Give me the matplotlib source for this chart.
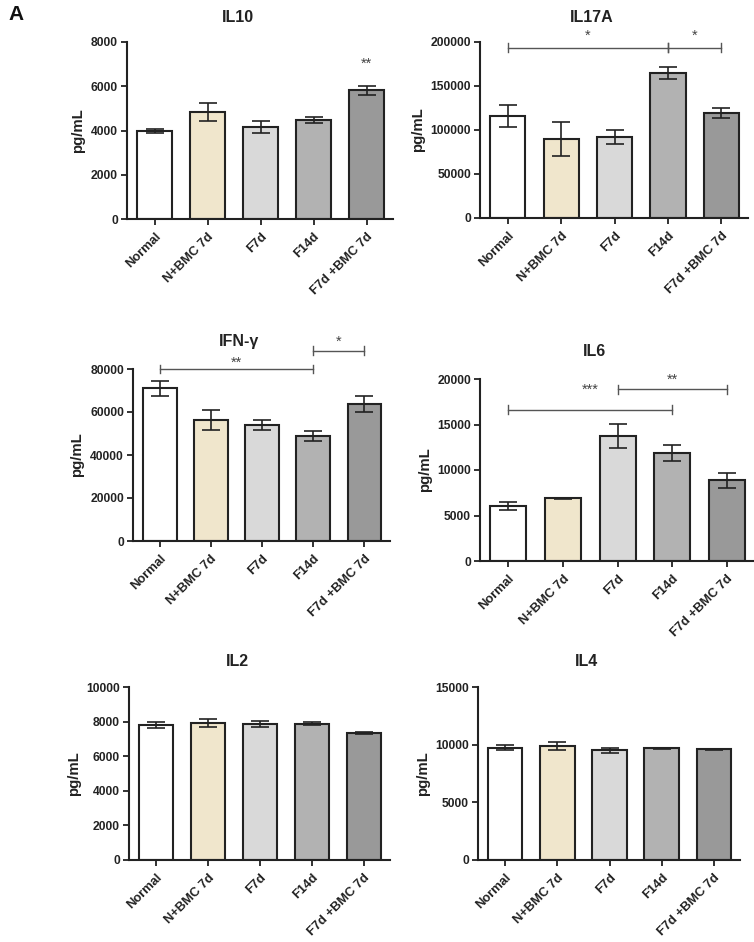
import matplotlib
matplotlib.use("Agg")
import matplotlib.pyplot as plt
import numpy as np

plt.rcParams['font.family'] = ['Liberation Sans', 'DejaVu Sans']

groups = ["Normal", "N+BMC 7d", "F7d", "F14d", "F7d +BMC 7d"]
colors = ["#FFFFFF", "#F0E6CC", "#D9D9D9", "#B2B2B2", "#999999"]

il10_mean = [3980, 4840, 4160, 4470, 5810]
il10_sem = [90, 390, 280, 140, 210]
il17a_mean = [115900, 89800, 92000, 164400, 119300]
il17a_sem = [12000, 19000, 8000, 7000, 5300]
ifng_mean = [71000, 56300, 53800, 48800, 63900]
ifng_sem = [3500, 4600, 2300, 2500, 3700]
il6_mean = [6010, 6890, 13740, 11870, 8870]
il6_sem = [450, 50, 1280, 840, 800]
il2_mean = [7800, 7920, 7860, 7880, 7340]
il2_sem = [190, 250, 170, 100, 30]
il4_mean = [9740, 9910, 9510, 9680, 9600]
il4_sem = [200, 330, 220, 70, 40]

# significance: (start group, end group, bracket y, star y, label); start==end -> star only
il10_sig = [(4, 4, None, 7000, "**")]
il17a_sig = [(0, 3, 193500, 207000, "*"), (3, 4, 193500, 207000, "*")]
ifng_sig = [(0, 3, 80000, 82900, "**"), (3, 4, 88500, 92700, "*")]
il6_sig = [(0, 3, 16600, 18800, "***"), (2, 4, 18860, 19900, "**")]
il2_sig = []
il4_sig = []

W, H = 754, 942
fig = plt.figure(figsize=(W / 100, H / 100), dpi=100)
fig.patch.set_facecolor("white")

panels = [
    ("IL10", il10_mean, il10_sem, 8000, 2000, il10_sig, (127, 393, 42, 219), 17),
    ("IL17A", il17a_mean, il17a_sem, 200000, 50000, il17a_sig, (480, 748, 42, 218), 17),
    ("IFN-\u03b3", ifng_mean, ifng_sem, 80000, 20000, ifng_sig, (133, 390, 369, 541), 342),
    ("IL6", il6_mean, il6_sem, 20000, 5000, il6_sig, (480, 754, 379, 561), 351),
    ("IL2", il2_mean, il2_sem, 10000, 2000, il2_sig, (129, 390, 687, 860), 662),
    ("IL4", il4_mean, il4_sem, 15000, 5000, il4_sig, (478, 740, 687, 860), 662),
]

edge = "#222222"
for title, mean, sem, ymax, ystep, sig, (l, r, t, b), ty in panels:
    ax = fig.add_axes([l / W, 1 - b / H, (r - l) / W, (b - t) / H])
    x = np.arange(len(groups))
    ax.bar(x, mean, width=0.66, color=colors, edgecolor=edge, linewidth=1.5, zorder=2)
    ax.errorbar(x, mean, yerr=sem, fmt="none", ecolor="#222222", elinewidth=1.2,
                capsize=6.5, capthick=1.2, zorder=3)
    ax.set_xlim(-0.52, 4.5)
    ax.set_ylim(0, ymax)
    ax.set_yticks(np.arange(0, ymax + 1, ystep))
    ax.set_yticklabels([f"{int(v)}" for v in np.arange(0, ymax + 1, ystep)],
                       fontsize=8.7, fontweight="bold", color="#222222")
    ax.set_xticks(x)
    ax.set_xticklabels(groups, rotation=45, ha="right", rotation_mode="anchor",
                       fontsize=9.3, fontweight="bold", color="#222222")
    ax.tick_params(axis="both", direction="out", length=4.5, width=1.3, color=edge, pad=2)
    ax.tick_params(axis="x", pad=4)
    for s in ["top", "right"]:
        ax.spines[s].set_visible(False)
    for s in ["left", "bottom"]:
        ax.spines[s].set_linewidth(1.5)
        ax.spines[s].set_color(edge)
    ax.set_ylabel("pg/mL", fontsize=10.8, fontweight="bold", color="#222222", labelpad=4)
    ax.set_facecolor("none")
    # title
    cx = (l + r) / 2 - 22
    fig.text(cx / W, 1 - ty / H, title, ha="center", va="center",
             fontsize=11.5, fontweight="bold", color="#222222")
    # significance
    for i, j, by, sy, lab in sig:
        if by is not None:
            ax.plot([i, j], [by, by], color="#555555", lw=1.0, clip_on=False, zorder=4)
            tick = ymax * 0.025
            for e in (i, j):
                ax.plot([e, e], [by - tick, by + tick], color="#555555", lw=1.0,
                        clip_on=False, zorder=4)
        ax.text((i + j) / 2, sy, lab, ha="center", va="center", fontsize=10.5,
                color="#444444", clip_on=False)

fig.text(8 / W, 1 - 14 / H, "A", ha="left", va="center", fontsize=15,
         fontweight="bold", color="#111111")

fig.savefig("out.png", dpi=100, facecolor="white")
